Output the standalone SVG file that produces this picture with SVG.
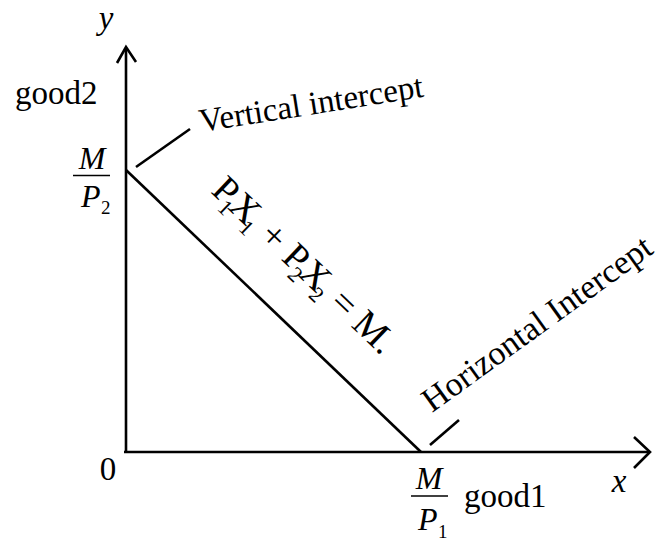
<svg xmlns="http://www.w3.org/2000/svg" width="658" height="544" viewBox="0 0 658 544">
<style>
.ln{stroke:#000;stroke-width:2.6;fill:none;stroke-linecap:butt}
.t{font-family:"Liberation Serif","Times New Roman",serif;fill:#000}
.i{font-style:italic}
</style>
<rect width="658" height="544" fill="#fff"/>
<g id="connectors">
<path class="ln" d="M126,453 V48"/>
<path class="ln" d="M117,63 L126,47 L136,62"/>
<path class="ln" d="M124,452 H649"/>
<path class="ln" d="M634,437 L650,452 L634,468"/>
<path class="ln" d="M126,170 L421,452"/>
<path class="ln" d="M136,167 L190,129"/>
<path class="ln" d="M430,445 L459,420"/>
</g>
<g id="y-label"><text class="t i" x="106" y="29" font-size="33" text-anchor="middle">y</text></g>
<g id="x-label"><text class="t i" x="619" y="492" font-size="33" text-anchor="middle">x</text></g>
<g id="origin"><text class="t" x="108" y="480" font-size="33" text-anchor="middle">0</text></g>
<g id="good2"><text class="t" x="15" y="104" font-size="33">good2</text></g>
<g id="good1"><text class="t" x="464" y="507" font-size="33">good1</text></g>
<g id="M-over-P2">
<text class="t i" x="92" y="169" font-size="32" text-anchor="middle">M</text>
<path d="M73,175.5 H110" stroke="#000" stroke-width="1.6"/>
<text class="t i" x="81" y="207" font-size="32">P</text>
<text class="t" x="101" y="214" font-size="19">2</text>
</g>
<g id="M-over-P1">
<text class="t i" x="429" y="489" font-size="32" text-anchor="middle">M</text>
<path d="M411,496 H448" stroke="#000" stroke-width="1.6"/>
<text class="t i" x="418" y="530" font-size="32">P</text>
<text class="t" x="438" y="538" font-size="19">1</text>
</g>
<g id="vertical-intercept"><text class="t" x="201" y="132" font-size="33" transform="rotate(-9 201 132)">Vertical intercept</text></g>
<g id="horizontal-intercept"><text class="t" x="432" y="413" font-size="34" transform="rotate(-35.8 432 413)">Horizontal Intercept</text></g>
<g id="equation"><text class="t" x="210" y="192" font-size="38" transform="rotate(43.7 210 192)">P<tspan font-size="22" dy="8" dx="-5">1</tspan><tspan dy="-8" dx="-4">X</tspan><tspan font-size="22" dy="8" dx="-5">1</tspan><tspan dy="-8"> + P</tspan><tspan font-size="22" dy="8" dx="-5">2</tspan><tspan dy="-8" dx="-4">X</tspan><tspan font-size="22" dy="8" dx="-5">2</tspan><tspan dy="-8"> = M.</tspan></text></g>
</svg>
